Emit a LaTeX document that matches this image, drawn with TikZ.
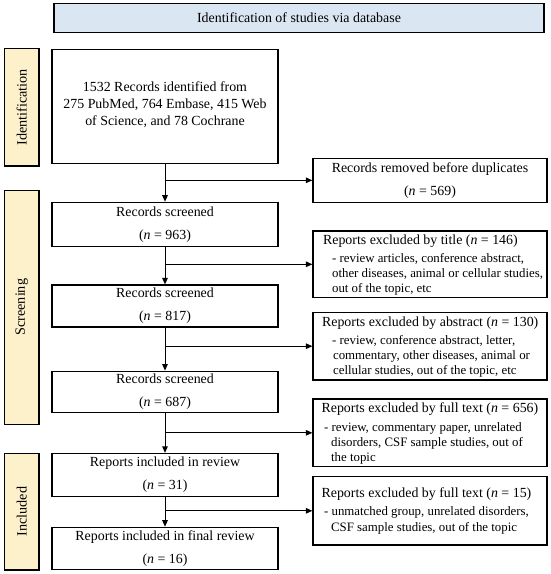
\documentclass[tikz,border=0pt]{standalone}
\usepackage{fontspec}
\setmainfont{Liberation Serif}
\usetikzlibrary{arrows.meta,calc}
\definecolor{bannerblue}{RGB}{219,230,243}
\definecolor{phasebeige}{RGB}{253,241,204}
\begin{document}
\begin{tikzpicture}[x=1pt,y=-1pt,
 flowbox/.style={draw, line width=1.2pt, minimum width=226pt, inner sep=0pt, align=center, font=\fontsize{13.9}{22.7}\selectfont},
 exbox/.style={draw, line width=1.2pt, minimum width=234pt, inner sep=0pt},
 exhead/.style={anchor=base west, inner sep=0pt, font=\fontsize{13.9}{16}\selectfont},
 exbul/.style={anchor=base west, inner sep=0pt, font=\fontsize{12.85}{15}\selectfont},
 phase/.style={draw, line width=1.4pt, fill=phasebeige, inner sep=0pt, rotate=90, minimum height=34.7pt, font=\fontsize{14.2}{16}\selectfont},
 arr/.style={line width=1pt, -{Triangle[length=6.5pt,width=5.5pt]}}]
\useasboundingbox (0,0) rectangle (550,574);

\node[draw, fill=bannerblue, line width=1.2pt, minimum width=490pt, minimum height=29pt, inner sep=0pt, font=\fontsize{13.9}{16}\selectfont] (banner) at (299,18) {Identification of studies via database};

\node[phase, minimum width=117.7pt] (pid) at (21.7,107.2) {Identification};
\node[phase, minimum width=234pt] (psc) at (21.7,307.2) {Screening};
\node[phase, minimum width=116.7pt] (pin) at (21.7,511.7) {Included};

\node[flowbox, minimum height=114pt] (rec) at (165,106.3) {};
\node[inner sep=0pt, align=center, font=\fontsize{13.9}{16.65}\selectfont] (rect) at (165,104.6) {1532 Records identified from\\275 PubMed, 764 Embase, 415 Web\\of Science, and 78 Cochrane};
\node[flowbox, minimum height=44.4pt] (rs1) at (165,224.5) {Records screened\\(\textit{n} = 963)};
\node[flowbox, minimum height=42pt] (rs2) at (165,306) {Records screened\\(\textit{n} = 817)};
\node[flowbox, minimum height=41pt] (rs3) at (165,391.7) {Records screened\\(\textit{n} = 687)};
\node[flowbox, minimum height=42.7pt] (inc) at (165,474.8) {Reports included in review\\(\textit{n} = 31)};
\node[flowbox, minimum height=42pt] (fin) at (165,548.3) {Reports included in final review\\(\textit{n} = 16)};

\node[flowbox, minimum width=234pt, minimum height=44pt] (rem) at (430,180.3) {Records removed before duplicates\\(\textit{n} = 569)};
\node[exbox, minimum height=66.7pt] (ex1) at (430,264.3) {};
\node[exbox, minimum height=67.7pt] (ex2) at (430,346.2) {};
\node[exbox, minimum height=67.7pt] (ex3) at (430,432.8) {};
\node[exbox, minimum height=68.3pt] (ex4) at (430,510.8) {};

\node[exhead] (ex1a) at ($(ex1.north west)+(10.5,13.8)$) {Reports excluded by title (\textit{n} = 146)};
\node[exbul] (ex1b) at ($(ex1.north west)+(19.5,31.8)$) {- review articles, conference abstract,};
\node[exbul] (ex1c) at ($(ex1.north west)+(19.5,46.8)$) {other diseases, animal or cellular studies,};
\node[exbul] (ex1d) at ($(ex1.north west)+(19.5,61.8)$) {out of the topic, etc};

\node[exhead] (ex2a) at ($(ex2.north west)+(9.5,14.5)$) {Reports excluded by abstract (\textit{n} = 130)};
\node[exbul] (ex2b) at ($(ex2.north west)+(19.5,32.9)$) {- review, conference abstract, letter,};
\node[exbul] (ex2c) at ($(ex2.north west)+(20.5,47.9)$) {commentary, other diseases, animal or};
\node[exbul] (ex2d) at ($(ex2.north west)+(20.5,62.9)$) {cellular studies, out of the topic, etc};

\node[exhead] (ex3a) at ($(ex3.north west)+(9,14.5)$) {Reports excluded by full text (\textit{n} = 656)};
\node[exbul] (ex3b) at ($(ex3.north west)+(11.5,32.8)$) {- review, commentary paper, unrelated};
\node[exbul] (ex3c) at ($(ex3.north west)+(18.5,47.8)$) {disorders, CSF sample studies, out of};
\node[exbul] (ex3d) at ($(ex3.north west)+(18.5,62.8)$) {the topic};

\node[exhead] (ex4a) at ($(ex4.north west)+(9,21.8)$) {Reports excluded by full text (\textit{n} = 15)};
\node[exbul] (ex4b) at ($(ex4.north west)+(11.5,39.8)$) {- unmatched group, unrelated disorders,};
\node[exbul] (ex4c) at ($(ex4.north west)+(18.5,55.8)$) {CSF sample studies, out of the topic};

\draw[arr] (rec.south) -- (rs1.north);
\draw[arr] (rs1.south) -- (rs2.north);
\draw[arr] (rs2.south) -- (rs3.north);
\draw[arr] (rs3.south) -- (inc.north);
\draw[arr] (inc.south) -- (fin.north);

\coordinate (j0) at (rec.south |- rem.west);
\coordinate (j1) at (rec.south |- ex1.west);
\coordinate (j2) at (rec.south |- ex2.west);
\coordinate (j3) at (rec.south |- ex3.west);
\coordinate (j4) at (rec.south |- ex4.west);
\draw[arr] (j0) -- (rem.west);
\draw[arr] (j1) -- (ex1.west);
\draw[arr] (j2) -- (ex2.west);
\draw[arr] (j3) -- (ex3.west);
\draw[arr] (j4) -- (ex4.west);
\end{tikzpicture}
\end{document}
